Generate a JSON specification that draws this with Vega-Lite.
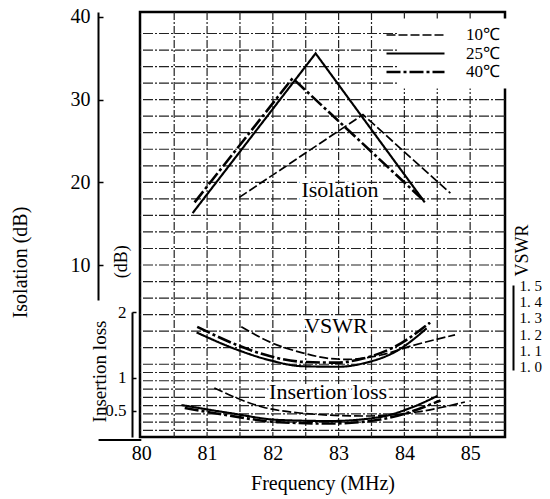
{
  "$schema": "https://vega.github.io/schema/vega-lite/v6.json",
  "width": 365,
  "height": 425,
  "autosize": {"type": "none"},
  "padding": {"left": 140, "top": 12, "right": 45, "bottom": 62},
  "background": "white",
  "config": {
    "font": "Liberation Serif",
    "view": {"stroke": "black", "strokeWidth": 2.5},
    "style": {"guide-title": {"font": "Liberation Serif", "fontWeight": "normal"}, "guide-label": {"font": "Liberation Serif"}},
    "axis": {"domainColor": "black", "tickColor": "black", "labelColor": "black", "titleColor": "black", "titleFontWeight": "normal", "labelFont": "Liberation Serif", "titleFont": "Liberation Serif", "labelOverlap": false}
  },
  "datasets": {
    "curves": [
      {"m": "iso", "t": "10℃", "f": 81.49, "v": 18.2},
      {"m": "iso", "t": "10℃", "f": 83.37, "v": 28.2},
      {"m": "iso", "t": "10℃", "f": 84.70, "v": 18.7},
      {"m": "iso", "t": "25℃", "f": 80.78, "v": 16.3},
      {"m": "iso", "t": "25℃", "f": 82.65, "v": 35.6},
      {"m": "iso", "t": "25℃", "f": 84.31, "v": 17.6},
      {"m": "iso", "t": "40℃", "f": 80.81, "v": 17.6},
      {"m": "iso", "t": "40℃", "f": 82.30, "v": 32.6},
      {"m": "iso", "t": "40℃", "f": 84.27, "v": 18.0},
      {"m": "vswr", "t": "10℃", "f": 81.52, "v": 1.244},
      {"m": "vswr", "t": "10℃", "f": 81.95, "v": 1.152},
      {"m": "vswr", "t": "10℃", "f": 82.45, "v": 1.085},
      {"m": "vswr", "t": "10℃", "f": 82.87, "v": 1.05},
      {"m": "vswr", "t": "10℃", "f": 83.13, "v": 1.045},
      {"m": "vswr", "t": "10℃", "f": 83.63, "v": 1.07},
      {"m": "vswr", "t": "10℃", "f": 84.13, "v": 1.13},
      {"m": "vswr", "t": "10℃", "f": 84.77, "v": 1.195},
      {"m": "vswr", "t": "25℃", "f": 80.84, "v": 1.21},
      {"m": "vswr", "t": "25℃", "f": 81.45, "v": 1.105},
      {"m": "vswr", "t": "25℃", "f": 81.95, "v": 1.04},
      {"m": "vswr", "t": "25℃", "f": 82.45, "v": 1.003},
      {"m": "vswr", "t": "25℃", "f": 83.0, "v": 1.0},
      {"m": "vswr", "t": "25℃", "f": 83.37, "v": 1.02},
      {"m": "vswr", "t": "25℃", "f": 83.89, "v": 1.098},
      {"m": "vswr", "t": "25℃", "f": 84.34, "v": 1.235},
      {"m": "vswr", "t": "40℃", "f": 80.85, "v": 1.244},
      {"m": "vswr", "t": "40℃", "f": 81.45, "v": 1.134},
      {"m": "vswr", "t": "40℃", "f": 81.95, "v": 1.065},
      {"m": "vswr", "t": "40℃", "f": 82.45, "v": 1.03},
      {"m": "vswr", "t": "40℃", "f": 82.97, "v": 1.025},
      {"m": "vswr", "t": "40℃", "f": 83.37, "v": 1.05},
      {"m": "vswr", "t": "40℃", "f": 83.89, "v": 1.13},
      {"m": "vswr", "t": "40℃", "f": 84.39, "v": 1.27},
      {"m": "il", "t": "10℃", "f": 81.11, "v": 0.848},
      {"m": "il", "t": "10℃", "f": 81.84, "v": 0.561},
      {"m": "il", "t": "10℃", "f": 82.41, "v": 0.47},
      {"m": "il", "t": "10℃", "f": 83.37, "v": 0.424},
      {"m": "il", "t": "10℃", "f": 84.19, "v": 0.485},
      {"m": "il", "t": "10℃", "f": 84.92, "v": 0.636},
      {"m": "il", "t": "25℃", "f": 80.61, "v": 0.59},
      {"m": "il", "t": "25℃", "f": 81.34, "v": 0.47},
      {"m": "il", "t": "25℃", "f": 82.10, "v": 0.364},
      {"m": "il", "t": "25℃", "f": 82.87, "v": 0.348},
      {"m": "il", "t": "25℃", "f": 83.63, "v": 0.409},
      {"m": "il", "t": "25℃", "f": 84.13, "v": 0.561},
      {"m": "il", "t": "25℃", "f": 84.50, "v": 0.727},
      {"m": "il", "t": "40℃", "f": 80.66, "v": 0.545},
      {"m": "il", "t": "40℃", "f": 81.34, "v": 0.43},
      {"m": "il", "t": "40℃", "f": 82.10, "v": 0.33},
      {"m": "il", "t": "40℃", "f": 82.87, "v": 0.31},
      {"m": "il", "t": "40℃", "f": 83.63, "v": 0.37},
      {"m": "il", "t": "40℃", "f": 84.13, "v": 0.5},
      {"m": "il", "t": "40℃", "f": 84.55, "v": 0.66}
    ],
    "grid": [
      {"g": 38}, {"g": 36}, {"g": 34}, {"g": 32}, {"g": 30}, {"g": 28}, {"g": 26}, {"g": 24}, {"g": 22}, {"g": 20},
      {"g": 18}, {"g": 16}, {"g": 14}, {"g": 12}, {"g": 10}, {"g": 8}, {"g": 6}, {"g": 4}, {"g": 2}, {"g": 0}, {"g": -2},
      {"g": -3}, {"g": -4}, {"g": -5}, {"g": -6}, {"g": -7}, {"g": -8}, {"g": -9}, {"g": -10}
    ],
    "vgrid": [
      {"x": 80.5}, {"x": 81}, {"x": 81.5}, {"x": 82}, {"x": 82.5}, {"x": 83}, {"x": 83.5}, {"x": 84}, {"x": 84.5}, {"x": 85}
    ],
    "notes": [
      {"m": "iso", "lab": "Isolation", "f": 83.02, "v": 19.1},
      {"m": "vswr", "lab": "VSWR", "f": 82.96, "v": 1.25},
      {"m": "il", "lab": "Insertion loss", "f": 82.84, "v": 0.79},
      {"m": "ilu", "lab": "(dB)", "f": 79.7, "v": 2.76}
    ]
  },
  "layer": [
    {
      "data": {"name": "grid"},
      "mark": {"type": "rule", "color": "#222", "strokeWidth": 1.2, "strokeDash": [10, 2, 2, 2]},
      "encoding": {
        "y": {"field": "g", "type": "quantitative", "scale": {"domain": [-10.8, 40.6], "nice": false, "zero": false}, "axis": null}
      }
    },
    {
      "data": {"name": "vgrid"},
      "mark": {"type": "rule", "color": "#222", "strokeWidth": 1.2, "strokeDash": [8, 2, 2, 2]},
      "encoding": {
        "x": {"field": "x", "type": "quantitative", "scale": {"domain": [79.98, 85.53], "nice": false, "zero": false},
          "axis": {"values": [80, 81, 82, 83, 84, 85], "grid": false, "labelFontSize": 20, "labelPadding": 6, "ticks": false, "domain": false, "title": "Frequency (MHz)", "titleFont": "Liberation Serif", "titleFontSize": 20, "titlePadding": 10}}
      }
    },
    {
      "data": {"name": "curves"},
      "transform": [{"filter": "datum.m === 'iso'"}],
      "mark": {"type": "line", "color": "black", "interpolate": "linear"},
      "encoding": {
        "x": {"field": "f", "type": "quantitative", "scale": {"domain": [79.98, 85.53], "nice": false, "zero": false},
          "axis": {"values": [80, 81, 82, 83, 84, 85], "grid": false, "labelFontSize": 20, "labelPadding": 6, "ticks": false, "domain": false, "title": "Frequency (MHz)", "titleFont": "Liberation Serif", "titleFontSize": 20, "titlePadding": 10}},
        "y": {"field": "v", "type": "quantitative", "scale": {"domain": [5.8, 40.6], "range": [288, 0], "nice": false, "zero": false},
          "axis": {"orient": "left", "offset": 42, "values": [10, 20, 30, 40], "domainWidth": 2, "tickSize": -5, "tickWidth": 1.5, "labelFontSize": 20, "labelPadding": 13, "grid": false,
            "title": "Isolation (dB)", "titleFont": "Liberation Serif", "titleFontSize": 20, "titleAngle": 270, "titleX": -78, "titleY": 250, "titleAlign": "center", "titleBaseline": "middle"}},
        "strokeDash": {"field": "t", "type": "nominal", "scale": {"domain": ["10℃", "25℃", "40℃"], "range": [[9, 3], [1, 0], [14, 3, 3, 3]]},
          "legend": {"title": null, "orient": "none", "legendX": 259, "legendY": 6.5, "symbolType": "M-5.8,0H5.8", "symbolSize": 100, "labelOffset": 42, "labelFontSize": 17, "labelFont": "Liberation Serif", "labelColor": "black", "fillColor": "white", "padding": 8, "rowPadding": 0.5, "symbolStrokeColor": "black"}},
        "strokeWidth": {"field": "t", "type": "nominal", "scale": {"domain": ["10℃", "25℃", "40℃"], "range": [1.7, 2.6, 1.7]},
          "legend": {"title": null, "orient": "none", "legendX": 259, "legendY": 6.5, "symbolType": "M-5.8,0H5.8", "symbolSize": 100, "labelOffset": 42, "labelFontSize": 17, "labelFont": "Liberation Serif", "labelColor": "black", "fillColor": "white", "padding": 8, "rowPadding": 0.5, "symbolStrokeColor": "black"}}
      }
    },
    {
      "data": {"name": "curves"},
      "transform": [{"filter": "datum.m === 'vswr'"}],
      "mark": {"type": "line", "color": "black", "interpolate": "monotone"},
      "encoding": {
        "x": {"field": "f", "type": "quantitative", "scale": {"domain": [79.98, 85.53], "nice": false, "zero": false},
          "axis": {"values": [80, 81, 82, 83, 84, 85], "grid": false, "labelFontSize": 20, "labelPadding": 6, "ticks": false, "domain": false, "title": "Frequency (MHz)", "titleFont": "Liberation Serif", "titleFontSize": 20, "titlePadding": 10}},
        "y": {"field": "v", "type": "quantitative", "scale": {"domain": [0.98, 1.5], "range": [358, 273], "nice": false, "zero": false},
          "axis": {"orient": "right", "offset": 8, "values": [1, 1.1, 1.2, 1.3, 1.4, 1.5], "labelExpr": "replace(format(datum.value, '.1f'), '.', '. ')", "labelOverlap": false, "domainWidth": 2, "ticks": false, "labelFontSize": 15, "labelPadding": 6, "grid": false,
            "title": "VSWR", "titleFont": "Liberation Serif", "titleFontSize": 18, "titleAngle": 270, "titleX": 9, "titleY": 238, "titleAlign": "center", "titleBaseline": "middle"}},
        "strokeDash": {"field": "t", "type": "nominal", "legend": null},
        "strokeWidth": {"field": "t", "type": "nominal", "legend": null}
      }
    },
    {
      "data": {"name": "curves"},
      "transform": [{"filter": "datum.m === 'il'"}],
      "mark": {"type": "line", "color": "black", "interpolate": "monotone"},
      "encoding": {
        "x": {"field": "f", "type": "quantitative", "scale": {"domain": [79.98, 85.53], "nice": false, "zero": false},
          "axis": {"values": [80, 81, 82, 83, 84, 85], "grid": false, "labelFontSize": 20, "labelPadding": 6, "ticks": false, "domain": false, "title": "Frequency (MHz)", "titleFont": "Liberation Serif", "titleFontSize": 20, "titlePadding": 10}},
        "y": {"field": "v", "type": "quantitative", "scale": {"domain": [0.106, 2], "range": [425, 300], "nice": false, "zero": false},
          "axis": {"orient": "left", "offset": 8, "values": [0.5, 1, 2], "labelExpr": "'' + datum.value", "domainWidth": 2, "tickSize": -4, "tickWidth": 1.5, "labelFontSize": 17, "labelPadding": 10, "grid": false,
            "title": "Insertion loss", "titleFont": "Liberation Serif", "titleFontSize": 19, "titleAngle": 270, "titleX": -33, "titleY": 359, "titleAlign": "center", "titleBaseline": "middle"}},
        "strokeDash": {"field": "t", "type": "nominal", "legend": null},
        "strokeWidth": {"field": "t", "type": "nominal", "legend": null}
      }
    },
    {
      "data": {"name": "notes"},
      "transform": [{"filter": "datum.m === 'iso'"}],
      "mark": {"type": "text", "fontSize": 22, "font": "Liberation Serif", "fill": "white", "stroke": "white", "strokeWidth": 6},
      "encoding": {
        "x": {"field": "f", "type": "quantitative", "scale": {"domain": [79.98, 85.53], "nice": false, "zero": false},
          "axis": {"values": [80, 81, 82, 83, 84, 85], "grid": false, "labelFontSize": 20, "labelPadding": 6, "ticks": false, "domain": false, "title": "Frequency (MHz)", "titleFont": "Liberation Serif", "titleFontSize": 20, "titlePadding": 10}},
        "y": {"field": "v", "type": "quantitative", "scale": {"domain": [5.8, 40.6], "range": [288, 0], "nice": false, "zero": false}, "axis": null},
        "text": {"field": "lab"}
      }
    },
    {
      "data": {"name": "notes"},
      "transform": [{"filter": "datum.m === 'iso'"}],
      "mark": {"type": "text", "fontSize": 22, "font": "Liberation Serif", "fill": "black"},
      "encoding": {
        "x": {"field": "f", "type": "quantitative", "scale": {"domain": [79.98, 85.53], "nice": false, "zero": false},
          "axis": {"values": [80, 81, 82, 83, 84, 85], "grid": false, "labelFontSize": 20, "labelPadding": 6, "ticks": false, "domain": false, "title": "Frequency (MHz)", "titleFont": "Liberation Serif", "titleFontSize": 20, "titlePadding": 10}},
        "y": {"field": "v", "type": "quantitative", "scale": {"domain": [5.8, 40.6], "range": [288, 0], "nice": false, "zero": false}, "axis": null},
        "text": {"field": "lab"}
      }
    },
    {
      "data": {"name": "notes"},
      "transform": [{"filter": "datum.m === 'vswr'"}],
      "mark": {"type": "text", "fontSize": 22, "font": "Liberation Serif", "fill": "white", "stroke": "white", "strokeWidth": 6},
      "encoding": {
        "x": {"field": "f", "type": "quantitative", "scale": {"domain": [79.98, 85.53], "nice": false, "zero": false},
          "axis": {"values": [80, 81, 82, 83, 84, 85], "grid": false, "labelFontSize": 20, "labelPadding": 6, "ticks": false, "domain": false, "title": "Frequency (MHz)", "titleFont": "Liberation Serif", "titleFontSize": 20, "titlePadding": 10}},
        "y": {"field": "v", "type": "quantitative", "scale": {"domain": [0.98, 1.5], "range": [358, 273], "nice": false, "zero": false}, "axis": null},
        "text": {"field": "lab"}
      }
    },
    {
      "data": {"name": "notes"},
      "transform": [{"filter": "datum.m === 'vswr'"}],
      "mark": {"type": "text", "fontSize": 22, "font": "Liberation Serif", "fill": "black"},
      "encoding": {
        "x": {"field": "f", "type": "quantitative", "scale": {"domain": [79.98, 85.53], "nice": false, "zero": false},
          "axis": {"values": [80, 81, 82, 83, 84, 85], "grid": false, "labelFontSize": 20, "labelPadding": 6, "ticks": false, "domain": false, "title": "Frequency (MHz)", "titleFont": "Liberation Serif", "titleFontSize": 20, "titlePadding": 10}},
        "y": {"field": "v", "type": "quantitative", "scale": {"domain": [0.98, 1.5], "range": [358, 273], "nice": false, "zero": false}, "axis": null},
        "text": {"field": "lab"}
      }
    },
    {
      "data": {"name": "notes"},
      "transform": [{"filter": "datum.m === 'il'"}],
      "mark": {"type": "text", "fontSize": 22, "font": "Liberation Serif", "fill": "white", "stroke": "white", "strokeWidth": 6},
      "encoding": {
        "x": {"field": "f", "type": "quantitative", "scale": {"domain": [79.98, 85.53], "nice": false, "zero": false},
          "axis": {"values": [80, 81, 82, 83, 84, 85], "grid": false, "labelFontSize": 20, "labelPadding": 6, "ticks": false, "domain": false, "title": "Frequency (MHz)", "titleFont": "Liberation Serif", "titleFontSize": 20, "titlePadding": 10}},
        "y": {"field": "v", "type": "quantitative", "scale": {"domain": [0.106, 2], "range": [425, 300], "nice": false, "zero": false}, "axis": null},
        "text": {"field": "lab"}
      }
    },
    {
      "data": {"name": "notes"},
      "transform": [{"filter": "datum.m === 'il'"}],
      "mark": {"type": "text", "fontSize": 22, "font": "Liberation Serif", "fill": "black"},
      "encoding": {
        "x": {"field": "f", "type": "quantitative", "scale": {"domain": [79.98, 85.53], "nice": false, "zero": false},
          "axis": {"values": [80, 81, 82, 83, 84, 85], "grid": false, "labelFontSize": 20, "labelPadding": 6, "ticks": false, "domain": false, "title": "Frequency (MHz)", "titleFont": "Liberation Serif", "titleFontSize": 20, "titlePadding": 10}},
        "y": {"field": "v", "type": "quantitative", "scale": {"domain": [0.106, 2], "range": [425, 300], "nice": false, "zero": false}, "axis": null},
        "text": {"field": "lab"}
      }
    },
    {
      "data": {"name": "notes"},
      "transform": [{"filter": "datum.m === 'ilu'"}],
      "mark": {"type": "text", "fontSize": 18, "font": "Liberation Serif", "fill": "black", "angle": 270},
      "encoding": {
        "x": {"field": "f", "type": "quantitative", "scale": {"domain": [79.98, 85.53], "nice": false, "zero": false},
          "axis": {"values": [80, 81, 82, 83, 84, 85], "grid": false, "labelFontSize": 20, "labelPadding": 6, "ticks": false, "domain": false, "title": "Frequency (MHz)", "titleFont": "Liberation Serif", "titleFontSize": 20, "titlePadding": 10}},
        "y": {"field": "v", "type": "quantitative", "scale": {"domain": [0.106, 2], "range": [425, 300], "nice": false, "zero": false}, "axis": null},
        "text": {"field": "lab"}
      }
    },
    {
      "data": {"values": [{}]},
      "mark": {"type": "rule", "color": "black", "strokeWidth": 2},
      "encoding": {
        "x": {"datum": 79.35, "type": "quantitative", "scale": {"domain": [79.98, 85.53], "nice": false, "zero": false},
          "axis": {"values": [80, 81, 82, 83, 84, 85], "grid": false, "labelFontSize": 20, "labelPadding": 6, "ticks": false, "domain": false, "title": "Frequency (MHz)", "titleFont": "Liberation Serif", "titleFontSize": 20, "titlePadding": 10}},
        "x2": {"datum": 80.0},
        "y": {"datum": 0.06, "type": "quantitative", "scale": {"domain": [0.106, 2], "range": [425, 300], "nice": false, "zero": false}, "axis": null}
      }
    }
  ],
  "resolve": {"scale": {"y": "independent"}, "axis": {"y": "independent"}}
}
